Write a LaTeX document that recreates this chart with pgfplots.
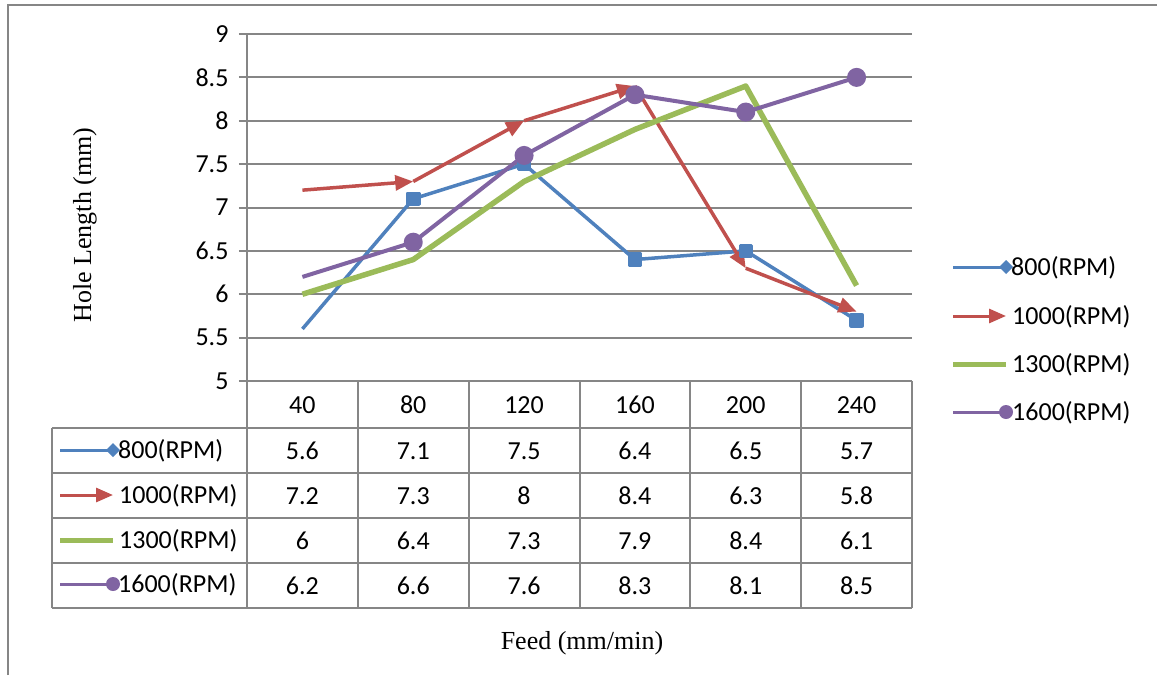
\documentclass[border=0pt]{standalone}
\usepackage{pgfplots}
\pgfplotsset{compat=1.18}
\usepackage{fontspec}
\setmainfont{Liberation Serif}
\newfontfamily\calfont{Carlito}
\usetikzlibrary{arrows.meta}
\definecolor{cblue}{RGB}{79,129,189}
\definecolor{cred}{RGB}{192,80,77}
\definecolor{cgreen}{RGB}{155,187,89}
\definecolor{cpurple}{RGB}{128,100,162}
\definecolor{cgrid}{RGB}{134,134,134}
\newcommand{\sz}{\calfont\fontsize{26}{30}\selectfont}
\begin{document}
\begin{tikzpicture}[x=1pt,y=1pt]
\path[use as bounding box] (0,0) rectangle (1157,-675);
\draw[cgrid,line width=2pt] (8,-675)--(8,-5)--(1157,-5);
\begin{axis}[at={(247pt,-381pt)}, anchor=south west, scale only axis,
  width=665pt, height=347pt,
  xmin=0.5, xmax=6.5, ymin=5, ymax=9,
  xtick=\empty, ytick={5,5.5,6,6.5,7,7.5,8,8.5,9},
  axis lines*=left, axis line style={cgrid,line width=2pt},
  ymajorgrids, grid style={cgrid,line width=2pt},
  tick align=outside, major tick length=8pt,
  tick style={cgrid,line width=2pt},
  yticklabel style={font=\sz, xshift=-7pt},
  /pgf/number format/assume math mode=true,
  clip=false, line join=round]
\addplot[cblue, line width=3.5pt, mark=square*, mark size=5.5pt,
  mark indices={2,3,4,5,6}, mark options={solid}]
  coordinates {(1,5.6)(2,7.1)(3,7.5)(4,6.4)(5,6.5)(6,5.7)};
\addplot[cred, line width=3.5pt, -{Triangle[length=18pt,width=15pt]}] coordinates {(1,7.2)(2,7.3)};
\addplot[cred, line width=3.5pt, -{Triangle[length=18pt,width=15pt]}] coordinates {(2,7.3)(3,8.0)};
\addplot[cred, line width=3.5pt, -{Triangle[length=18pt,width=15pt]}] coordinates {(3,8.0)(4,8.4)};
\addplot[cred, line width=3.5pt, -{Triangle[length=18pt,width=15pt]}] coordinates {(4,8.4)(5,6.3)};
\addplot[cred, line width=3.5pt, -{Triangle[length=18pt,width=15pt]}] coordinates {(5,6.3)(6,5.8)};
\addplot[cgreen, line width=5.5pt]
  coordinates {(1,6.0)(2,6.4)(3,7.3)(4,7.9)(5,8.4)(6,6.1)};
\addplot[cpurple, line width=4pt, mark=*, mark size=7.5pt,
  mark indices={2,3,4,5,6}, mark options={solid}]
  coordinates {(1,6.2)(2,6.6)(3,7.6)(4,8.3)(5,8.1)(6,8.5)};
\end{axis}
% data table grid
\foreach \yy in {428,473,518,563,608} \draw[cgrid,line width=2pt] (52,-\yy)--(912,-\yy);
\draw[cgrid,line width=2pt] (52,-428)--(52,-608);
\foreach \k in {0,...,6} \draw[cgrid,line width=2pt] ({247+110.833*\k},-381)--({247+110.833*\k},-608);
% header
\foreach \lab [count=\i from 0] in {40,80,120,160,200,240}
  \node[font=\sz] at ({302.4+110.833*\i},-405) {\lab};
% rows
\foreach \lab [count=\i from 0] in {5.6,7.1,7.5,6.4,6.5,5.7}
  \node[font=\sz] at ({302.4+110.833*\i},-451) {\lab};
\foreach \lab [count=\i from 0] in {7.2,7.3,8,8.4,6.3,5.8}
  \node[font=\sz] at ({302.4+110.833*\i},-496) {\lab};
\foreach \lab [count=\i from 0] in {6,6.4,7.3,7.9,8.4,6.1}
  \node[font=\sz] at ({302.4+110.833*\i},-541) {\lab};
\foreach \lab [count=\i from 0] in {6.2,6.6,7.6,8.3,8.1,8.5}
  \node[font=\sz] at ({302.4+110.833*\i},-586) {\lab};
% table legend keys
\draw[cblue,line width=3pt] (60,-450)--(113,-450);
\fill[cblue] (113,-443)--(120,-450)--(113,-457)--(106,-450)--cycle;
\node[font=\sz,anchor=west,inner sep=0pt] at (118,-451) {800(RPM)};
\draw[cred,line width=3pt,-{Triangle[length=17pt,width=14pt]}] (60,-495)--(113,-495);
\node[font=\sz,anchor=west,inner sep=0pt] at (119,-496) {1000(RPM)};
\draw[cgreen,line width=5pt] (60,-540)--(113,-540);
\node[font=\sz,anchor=west,inner sep=0pt] at (119,-541) {1300(RPM)};
\draw[cpurple,line width=3pt] (60,-584)--(113,-584);
\fill[cpurple] (113,-584) circle (7);
\node[font=\sz,anchor=west,inner sep=0pt] at (118,-585) {1600(RPM)};
% right legend
\draw[cblue,line width=3pt] (953,-267)--(1006,-267);
\fill[cblue] (1006,-260)--(1013,-267)--(1006,-274)--(999,-267)--cycle;
\node[font=\sz,anchor=west,inner sep=0pt] at (1011,-268) {800(RPM)};
\draw[cred,line width=3pt,-{Triangle[length=17pt,width=14pt]}] (953,-316)--(1006,-316);
\node[font=\sz,anchor=west,inner sep=0pt] at (1012,-317) {1000(RPM)};
\draw[cgreen,line width=5pt] (953,-364)--(1006,-364);
\node[font=\sz,anchor=west,inner sep=0pt] at (1012,-365) {1300(RPM)};
\draw[cpurple,line width=3pt] (953,-412)--(1006,-412);
\fill[cpurple] (1006,-412) circle (7);
\node[font=\sz,anchor=west,inner sep=0pt] at (1012,-413) {1600(RPM)};
% axis titles
\node[rotate=90,font=\fontsize{26}{30}\selectfont] at (85,-225) {Hole Length (mm)};
\node[font=\fontsize{26}{30}\selectfont] at (582,-643) {Feed (mm/min)};
\end{tikzpicture}
\end{document}
